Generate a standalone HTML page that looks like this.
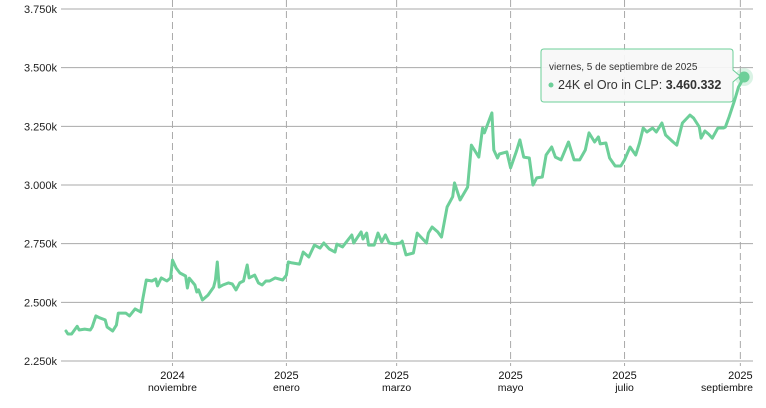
<!DOCTYPE html>
<html><head><meta charset="utf-8"><style>
html,body{margin:0;padding:0;background:#fff;}
svg{display:block;font-family:"Liberation Sans",sans-serif;}
</style></head><body>
<svg id="chart" width="766" height="408" viewBox="0 0 766 408">
<g id="grid"></g>
<g id="yaxis"></g>
<g id="xaxis"></g>
<path id="line" fill="none" stroke="#6dcf99" stroke-width="3" stroke-linejoin="round" stroke-linecap="round"></path>
<g id="marker"></g>
<g id="tooltip"></g>
</svg>
<script>
const days=[0,1,3,6,7,10,13,14,16,18,21,22,25,27,28,32,34,37,40,41,43,46,48,49,51,54,56,57,59,61,64,65,66,69,70,71,73,76,79,80,81,82,84,87,89,91,93,95,97,98,101,103,105,107,109,112,116,118,119,121,125,127,130,133,136,138,141,144,145,148,153,154,158,159,161,162,165,167,169,171,173,176,179,180,182,186,188,193,194,196,199,201,204,207,208,211,215,217,221,223,224,228,229,231,232,236,238,241,243,245,248,250,252,255,257,260,262,265,269,272,275,278,280,283,285,286,289,291,294,297,299,302,305,307,309,311,314,316,319,321,325,327,330,334,336,339,340,342,344,346,349,352,353,355,358,360,363];
const values=[2378,2365,2365,2398,2382,2386,2382,2395,2442,2434,2425,2395,2378,2403,2454,2454,2442,2472,2459,2510,2595,2591,2600,2570,2604,2591,2604,2680,2646,2625,2612,2561,2603,2574,2544,2553,2510,2531,2565,2595,2672,2565,2574,2583,2578,2553,2583,2591,2659,2604,2616,2583,2574,2591,2591,2604,2595,2616,2672,2668,2663,2714,2693,2744,2731,2753,2727,2714,2748,2736,2787,2753,2800,2770,2795,2744,2744,2795,2757,2787,2753,2749,2753,2761,2702,2710,2795,2753,2795,2821,2800,2778,2906,2950,3009,2936,2991,3170,3119,3243,3222,3307,3149,3115,3132,3141,3073,3141,3192,3119,3115,3000,3030,3034,3128,3162,3119,3107,3183,3107,3107,3149,3222,3183,3205,3175,3179,3115,3081,3081,3107,3162,3128,3179,3243,3226,3243,3226,3264,3213,3183,3170,3264,3298,3285,3247,3200,3230,3217,3200,3243,3243,3247,3290,3362,3417,3460];
const yTicks=[2250,2500,2750,3000,3250,3500,3750];
const yTickLabels=["2.250k","2.500k","2.750k","3.000k","3.250k","3.500k","3.750k"];
const xTickDays=[57,118,177,238,299,361];
const xTickYears=["2024","2025","2025","2025","2025","2025"];
const xTickMonths=["noviembre","enero","marzo","mayo","julio","septiembre"];
const tooltipDate="viernes, 5 de septiembre de 2025";
const tooltipSeries="24K el Oro in CLP: ";
const tooltipValue="3.460.332";

const NS="http://www.w3.org/2000/svg";
const X=d=>66+d*1.868;
const Y=v=>361-(v-2250)*0.23468;
function mk(t,a,p){const e=document.createElementNS(NS,t);for(const k in a)e.setAttribute(k,a[k]);p.appendChild(e);return e;}
const grid=document.getElementById('grid'),ya=document.getElementById('yaxis'),xa=document.getElementById('xaxis');
yTicks.forEach((v,i)=>{
  const l=mk('line',{x1:61,x2:753,y1:Y(v),y2:Y(v),stroke:'#aaa','stroke-width':1},grid);
  
  
  const t=mk('text',{x:57,y:Y(v)+4,'text-anchor':'end','font-size':11,fill:'#222'},ya);
  t.textContent=yTickLabels[i];
  
  
});
xTickDays.forEach((d,i)=>{
  const x=X(d);
  const l=mk('line',{x1:x,x2:x,y1:0,y2:366,stroke:'#aaa','stroke-width':1,'stroke-dasharray':'7,4'},grid);
  
  
  const last=i===xTickDays.length-1;
  const t1=mk('text',{x:x,y:379,'text-anchor':'middle','font-size':11,fill:'#111'},xa);
  t1.textContent=xTickYears[i];
  
  
  const t2=mk('text',{x:last?753:x,y:391,'text-anchor':last?'end':'middle','font-size':10.5,fill:'#111'},xa);
  t2.textContent=xTickMonths[i];
  
  
});
document.getElementById('line').setAttribute('d',days.map((d,i)=>(i?'L':'M')+X(d).toFixed(1)+','+Y(values[i]).toFixed(1)).join(''));
const n=days.length-1,mx=X(days[n]),my=Y(values[n]);
const mg=document.getElementById('marker');
mk('circle',{cx:mx,cy:my,r:9,fill:'#6dcf99','fill-opacity':0.25},mg);
mk('circle',{cx:mx,cy:my,r:5.5,fill:'#6dcf99'},mg);
const tg=document.getElementById('tooltip');
mk('path',{d:'M544,49 H730 Q733,49 733,52 V70 L740,76 L733,82 V99 Q733,102 730,102 H544 Q541,102 541,99 V52 Q541,49 544,49 Z',fill:'#f7f7f7','fill-opacity':0.92,stroke:'#6dcf99','stroke-width':1},tg);
const td=mk('text',{x:549,y:70,'font-size':10,fill:'#333'},tg);
td.textContent=tooltipDate;


mk('circle',{cx:551,cy:85,r:2.5,fill:'#6dcf99'},tg);
const tv=mk('text',{x:558,y:89,'font-size':12.5,fill:'#333'},tg);
tv.textContent=tooltipSeries;
const b=mk('tspan',{'font-weight':'bold'},tv);b.textContent=tooltipValue;


</script>
</body></html>
